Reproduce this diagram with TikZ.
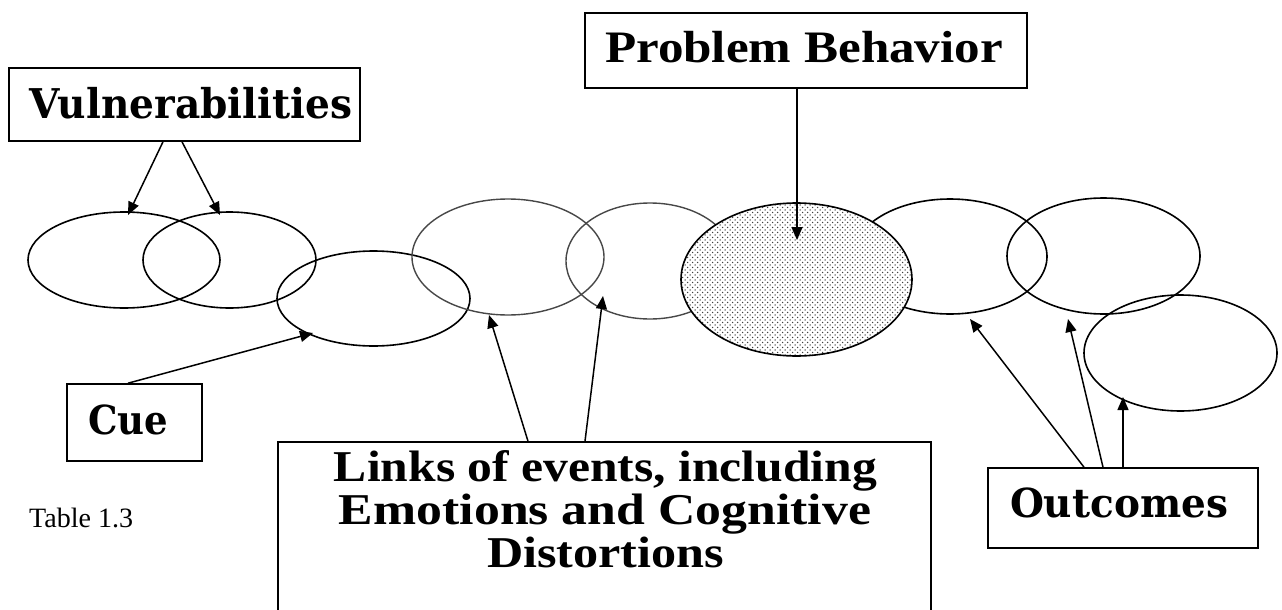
\documentclass[tikz,border=0pt]{standalone}
\usepackage{fontspec}
\usetikzlibrary{shapes.geometric,arrows.meta,patterns,calc}
\newfontfamily\boxfont{DejaVu Serif}
\newfontfamily\tallfont{Liberation Serif}
% stretch or squeeze a line of text to a given width, keeping its height
\newcommand\wfit[2]{\resizebox{#1}{\height}{#2}}
% coarse stipple for the shaded oval
\pgfdeclarepatternformonly{stipple}{\pgfpoint{-1pt}{-1pt}}{\pgfpoint{3.5pt}{3.5pt}}{\pgfpoint{5pt}{5pt}}{%
  \pgfpathcircle{\pgfpoint{0pt}{0pt}}{0.75pt}%
  \pgfpathcircle{\pgfpoint{2.5pt}{2.5pt}}{0.75pt}%
  \pgfusepath{fill}}

\begin{document}
\begin{tikzpicture}[x=1pt,y=-1pt,
  frame/.style={draw, line width=1.6pt, rectangle, inner sep=0pt},
  oval/.style={draw, line width=1.6pt, ellipse, inner sep=0pt},
  faint/.style={draw=black!72, line width=1.4pt},
  arr/.style={line width=1.5pt, -{Triangle[length=13pt,width=11pt]}},
  lbl/.style={inner sep=0pt, anchor=base},
]
\useasboundingbox (0,0) rectangle (1282,610);

% chain of events
\node[oval, minimum width=192pt, minimum height=96pt] (e1) at (124,260) {};
\node[oval, minimum width=173pt, minimum height=96pt] (e2) at (229.5,260) {};
\node[oval, minimum width=193pt, minimum height=95pt] (e3) at (373.5,298.5) {};
\node[oval, faint, minimum width=192pt, minimum height=116pt] (e4) at (508,257) {};
\node[oval, faint, minimum width=168pt, minimum height=116pt] (e5) at (650,261) {};
\node[oval, minimum width=194pt, minimum height=115pt] (e7) at (950,256.5) {};
\node[oval, minimum width=193pt, minimum height=116pt] (e8) at (1103.5,256) {};
\node[oval, minimum width=193pt, minimum height=116pt] (e9) at (1180.5,353) {};
% the problem behaviour itself, shaded
\node[oval, preaction={fill=white}, pattern=stipple, pattern color=black!75,
      minimum width=231pt, minimum height=153pt] (e6) at (796.5,279.5) {};

% labelled boxes
\node[frame, minimum width=351pt, minimum height=73pt] (vuln) at (184.5,104.5) {};
\node[lbl] (vuln-t) at (191,118) {\boxfont\bfseries\fontsize{41}{41}\selectfont\wfit{322pt}{Vulnerabilities}};

\node[frame, minimum width=442pt, minimum height=75pt] (pb) at (806,50.5) {};
\node[lbl] (pb-t) at (804,63) {\tallfont\bfseries\fontsize{45}{45}\selectfont\wfit{398pt}{Problem Behavior}};

\node[frame, minimum width=135pt, minimum height=77pt] (cue) at (134.5,422.5) {};
\node[lbl] (cue-t) at (128,434) {\boxfont\bfseries\fontsize{40}{40}\selectfont\wfit{80pt}{Cue}};

\node[frame, minimum width=270pt, minimum height=80pt] (outc) at (1123,508) {};
\node[lbl] (outc-t) at (1119,517) {\boxfont\bfseries\fontsize{40}{40}\selectfont\wfit{218pt}{Outcomes}};

\node[frame, minimum width=653pt, minimum height=200pt] (links) at (604.5,542) {};
\node[lbl] (links-a) at (605.5,481) {\tallfont\bfseries\fontsize{44}{44}\selectfont\wfit{543pt}{Links of events, including}};
\node[lbl] (links-b) at (605,524) {\tallfont\bfseries\fontsize{44}{44}\selectfont\wfit{532pt}{Emotions and Cognitive}};
\node[lbl] (links-c) at (605.5,567) {\tallfont\bfseries\fontsize{44}{44}\selectfont\wfit{237pt}{Distortions}};

\node[lbl, anchor=base west] (caption) at (29,527) {\tallfont\fontsize{28}{28}\selectfont\wfit{104pt}{Table 1.3}};

% connectors
\draw[arr] ([xshift=-21.5pt]vuln.south) -- ($(e1.center)+(4,-45)$);
\draw[arr] ([xshift=-2.5pt]vuln.south) -- ($(e2.center)+(-9.5,-45)$);
\draw[arr] ([xshift=-9pt]pb.south) -- ($(e6.center)+(0.5,-39.5)$);
\draw[arr] ([xshift=-6.5pt]cue.north) -- ($(e3.center)+(-60.5,34.5)$);
\draw[arr] ([xshift=-76.5pt]links.north) -- ($(e4.center)+(-19,58)$);
\draw[arr] ([xshift=-19.5pt]links.north) -- ($(e5.center)+(-47,35)$);
\draw[arr] ([xshift=-39pt]outc.north) -- ($(e7.center)+(20,62.5)$);
\draw[arr] ([xshift=-20pt]outc.north) -- ($(e8.center)+(-35.5,63)$);
\draw[arr] (outc.north) -- ($(e9.center)+(-57.5,44)$);
\end{tikzpicture}
\end{document}
